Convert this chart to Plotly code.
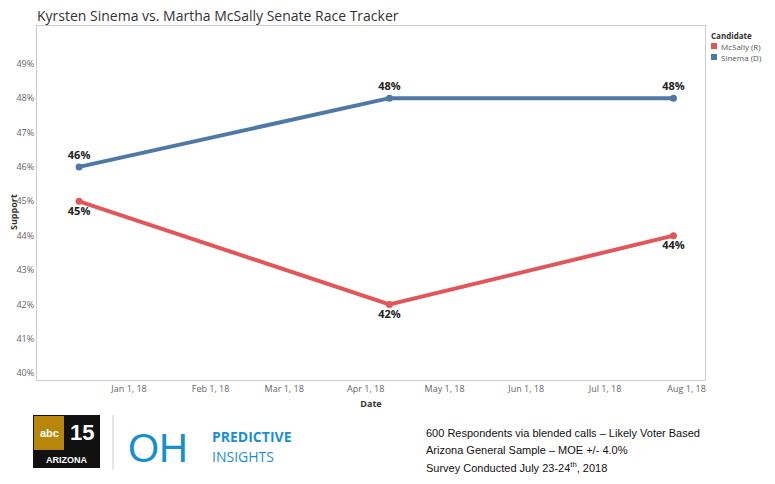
import plotly.graph_objects as go

dates = ["2017-12-13", "2018-04-10", "2018-07-27"]
mcsally = [45, 42, 44]
sinema = [46, 48, 48]
tickvals = ["2018-01-01","2018-02-01","2018-03-01","2018-04-01","2018-05-01","2018-06-01","2018-07-01","2018-08-01"]
ticktext = ["Jan 1, 18","Feb 1, 18","Mar 1, 18","Apr 1, 18","May 1, 18","Jun 1, 18","Jul 1, 18","Aug 1, 18"]
yvals = list(range(40, 50))
names = ["McSally (R)", "Sinema (D)"]
colors = ["#e15759", "#4e79a7"]

FW, FH = 767, 476
ML, MR, MT, MB = 29, 70, 18, 104

fig = go.Figure()
for name, vals, col, pos in [(names[0], mcsally, colors[0], "bottom center"),
                             (names[1], sinema, colors[1], "top center")]:
    fig.add_trace(go.Scatter(x=dates, y=vals, name=name, mode="lines+markers+text",
        line=dict(color=col, width=4), marker=dict(size=7), showlegend=False,
        text=[f"<b>{v}%</b>" for v in vals], textposition=pos,
        textfont=dict(size=11, color="#222", family="Open Sans")))

fig.update_layout(
    width=FW, height=FH, margin=dict(l=ML, r=MR, t=MT, b=MB, autoexpand=False),
    plot_bgcolor="white", paper_bgcolor="white",
    font=dict(family="Open Sans", size=9, color="#555"),
    title=dict(text="Kyrsten Sinema vs. Martha McSally Senate Race Tracker", x=0.0, y=1.0,
               xref="paper", yref="container", xanchor="left", yanchor="top",
               pad=dict(t=3, l=0), font=dict(size=14, color="#333")),
    xaxis=dict(range=["2017-11-27", "2018-08-08"], tickvals=tickvals, ticktext=ticktext,
               showgrid=False, showline=True, linecolor="#ccc", mirror=True, automargin=False,
               title=dict(text="<b>Date</b>", font=dict(size=9, color="#333"), standoff=6),
               tickfont=dict(size=9, color="#666")),
    yaxis=dict(range=[39.8, 50.1], tickvals=yvals, ticktext=[f"{v}%" for v in yvals],
               showgrid=False, showline=True, linecolor="#ccc", mirror=True, zeroline=False,
               automargin=False, tickfont=dict(size=9, color="#666")),
)

W = FW - ML - MR
H = FH - MT - MB
def px(x):  # page pixel -> paper
    return (x - 8 - ML) / W
def py(y):
    return (FH - MB - (y - 8)) / H

def rect(x0, x1, y0, y1, color):
    fig.add_shape(type="rect", xref="paper", yref="paper", x0=px(x0), x1=px(x1), y0=py(y1), y1=py(y0),
                  fillcolor=color, line=dict(width=0), layer="below")

def text(x, y, s, size, color, anchor="left", family="Liberation Sans", angle=0):
    fig.add_annotation(xref="paper", yref="paper", x=px(x), y=py(y), text=s, showarrow=False,
                       xanchor=anchor, yanchor="middle", textangle=angle,
                       font=dict(size=size, color=color, family=family))

# legend
text(709, 35, "<b>Candidate</b>", 8, "#333", family="Open Sans")
for i, (n, c) in enumerate(zip(names, colors)):
    yy = 46 + 11 * i
    rect(711, 717, yy - 3, yy + 3, c)
    text(719, yy, n, 8, "#555", family="Open Sans")

text(14, 212, "<b>Support</b>", 9, "#333", "center", "Open Sans", -90)
rect(33, 100, 415, 468, "#111")
rect(34, 64, 416, 450, "#b8860b")
text(49, 433, "<b>abc</b>", 11, "white", "center")
text(82, 433, "<b>15</b>", 22, "white", "center")
text(66, 460, "<b>ARIZONA</b>", 9, "white", "center")
fig.add_shape(type="line", xref="paper", yref="paper", x0=px(113), x1=px(113), y0=py(470), y1=py(415),
              line=dict(color="#ccc", width=1))
text(126, 448, "OH", 40, "#1a8fd0", "left")
text(210, 436, "<b>PREDICTIVE</b>", 14, "#1a8fd0", "left", family="Open Sans")
text(210, 456, "INSIGHTS", 14, "#1a8fd0", "left", family="Open Sans")
text(424, 433, "600 Respondents via blended calls – Likely Voter Based", 11, "#111")
text(424, 450, "Arizona General Sample – MOE +/- 4.0%", 11, "#111")
text(424, 467, "Survey Conducted July 23-24<sup>th</sup>, 2018", 11, "#111")

fig.write_html("out.html")
